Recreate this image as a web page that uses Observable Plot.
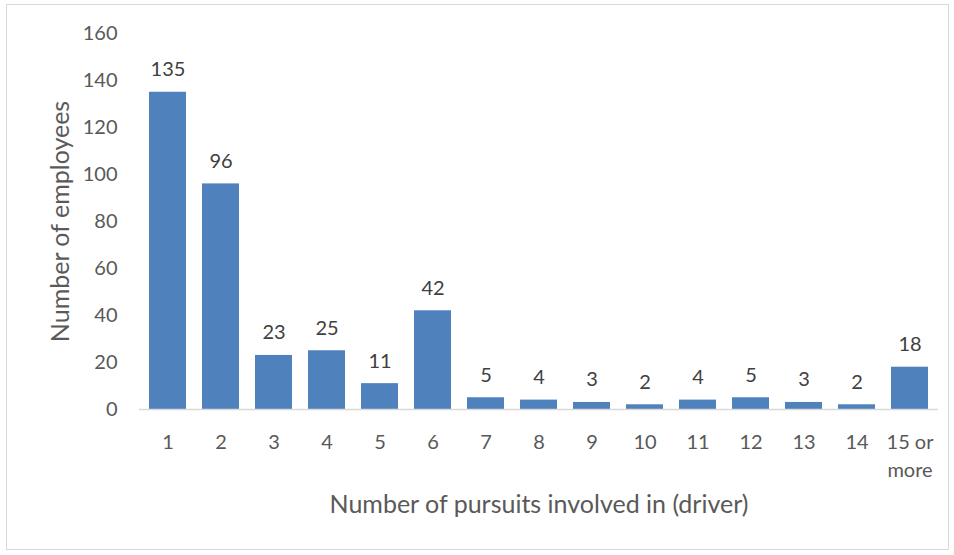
<!DOCTYPE html>
<html>
<head>
<meta charset="utf-8">
<script src="https://cdn.jsdelivr.net/npm/d3@7"></script>
<script src="https://cdn.jsdelivr.net/npm/@observablehq/plot@0.6"></script>
<style>
  html, body { margin: 0; padding: 0; background: #fff; }
  #wrap { position: relative; width: 954px; height: 555px; }
  #border { position: absolute; left: 6px; top: 4px; width: 943px; height: 546px; border: 1px solid #d9d9d9; box-sizing: border-box; pointer-events: none; }
  #chart { position: absolute; left: 0; top: 0; }
</style>
</head>
<body>
<div id="wrap"><div id="border"></div><div id="chart"></div></div>
<script>
const categories = ["1","2","3","4","5","6","7","8","9","10","11","12","13","14","15 or more"];
const counts = [135, 96, 23, 25, 11, 42, 5, 4, 3, 2, 4, 5, 3, 2, 18];
const yTicks = [0, 20, 40, 60, 80, 100, 120, 140, 160];
const xTitle = "Number of pursuits involved in (driver)";
const yTitle = "Number of employees";

const data = categories.map((c, i) => ({category: c, value: counts[i]}));
const font = "Lato, 'Open Sans', sans-serif";

const chart = Plot.plot({
  width: 954,
  height: 555,
  marginLeft: 139,
  marginRight: 16,
  marginTop: 33,
  marginBottom: 146,
  style: {fontFamily: font, fontSize: "20px", background: "transparent", overflow: "visible"},
  x: {domain: categories, paddingInner: 0.31, paddingOuter: 0.155},
  y: {domain: [0, 160]},
  marks: [
    Plot.barY(data, {x: "category", y: "value", fill: "#4f81bd"}),
    Plot.ruleY([0], {stroke: "#d9d9d9", strokeWidth: 1.3}),
    Plot.axisY(yTicks, {tickSize: 0, tickPadding: 22, label: null, fill: "#595959", fontSize: 20}),
    Plot.axisX({tickSize: 0, tickPadding: 20, label: null, fill: "#595959", fontSize: 20, lineHeight: 1.4,
      tickFormat: d => d === "15 or more" ? "15 or\nmore" : d}),
    Plot.text(data, {x: "category", y: "value", text: d => String(d.value), lineAnchor: "bottom", dy: -16, fill: "#404040", fontSize: 20}),
    Plot.text([xTitle], {frameAnchor: "bottom", dy: 103, fill: "#595959", fontSize: 25}),
    Plot.text([yTitle], {frameAnchor: "left", textAnchor: "middle", dx: -79, rotate: -90, fill: "#595959", fontSize: 25})
  ]
});
document.getElementById("chart").appendChild(chart);
</script>
</body>
</html>
